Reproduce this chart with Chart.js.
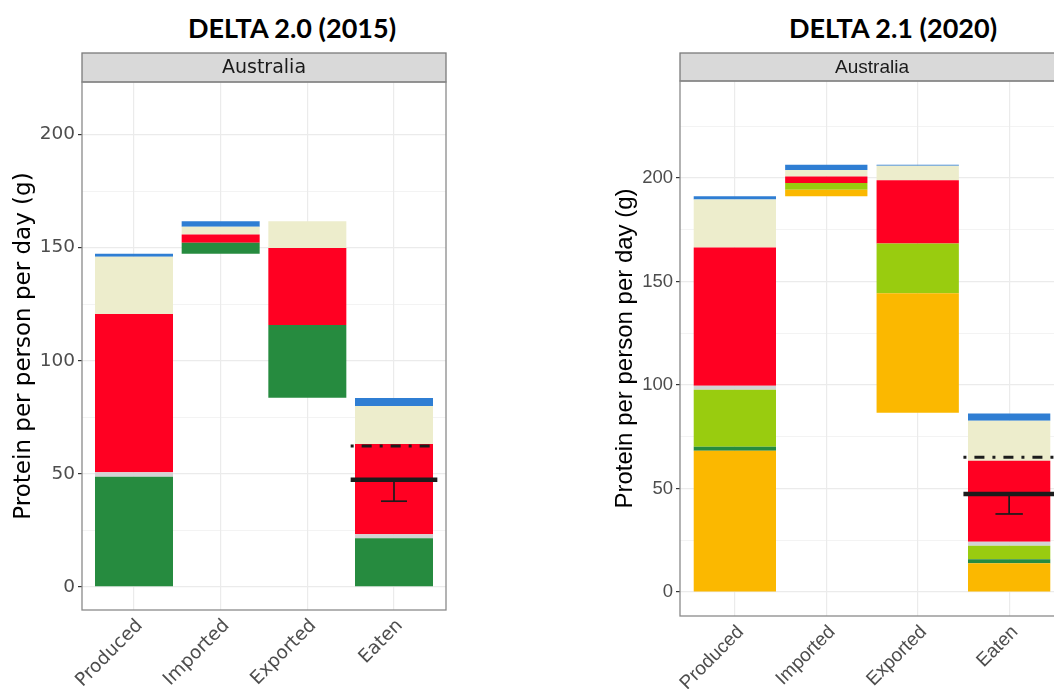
<!DOCTYPE html>
<html>
<head>
<meta charset="utf-8">
<script src="https://cdn.jsdelivr.net/npm/chart.js@4.4.1/dist/chart.umd.min.js"></script>
<style>
  html, body { margin: 0; padding: 0; background: #fff; overflow: hidden; }
  body { width: 1054px; height: 689px; position: relative; }
  .head { position: absolute; top: 12px; width: 300px; font: 700 27px Lato, sans-serif; line-height: 32px; text-align: center; color: #000; white-space: nowrap; }
  canvas { position: absolute; top: 40px; }
</style>
</head>
<body>
<div class="head" style="left:142px">DELTA 2.0 (2015)</div>
<div class="head" style="left:743px">DELTA 2.1 (2020)</div>
<canvas id="chart2015" width="460" height="649" style="left:0"></canvas>
<canvas id="chart2020" width="470" height="649" style="left:600px"></canvas>
<script>
// stages of the protein waterfall
var categories = ['Produced', 'Imported', 'Exported', 'Eaten'];

// DELTA 2.0 (2015): bottom of each stack, then segment sizes per food group (g/person/day)
var base2015    = [0, 147.3, 83.6, 0];
var plant2015   = [48.7, 4.8, 32.2, 21.5];
var other2015   = [2.0, 0, 0, 1.8];
var meat2015    = [69.9, 3.7, 34.0, 39.9];
var dairy2015   = [25.4, 3.4, 11.9, 16.8];
var seafood2015 = [1.3, 2.5, 0, 3.5];
var required2015 = 62.3, intake2015 = 47.4, intakeLow2015 = 37.9;
var yTicks2015 = [0, 25, 50, 75, 100, 125, 150, 175, 200];

// DELTA 2.1 (2020)
var base2020    = [0, 191.2, 86.6, 0];
var cereal2020  = [68.3, 3.2, 57.7, 13.9];
var veg2020     = [1.9, 0, 0, 1.9];
var pulse2020   = [27.5, 3.2, 24.1, 6.6];
var other2020   = [2.0, 0, 0, 1.9];
var meat2020    = [66.8, 3.2, 30.5, 39.1];
var dairy2020   = [23.2, 3.1, 7.0, 19.4];
var seafood2020 = [1.5, 2.5, 0.5, 3.5];
var required2020 = 65.1, intake2020 = 47.3, intakeLow2020 = 37.7;
var yTicks2020 = [0, 25, 50, 75, 100, 125, 150, 175, 200, 225];

var COL = {
  cereal: '#FBB800', veg: '#268B3F', pulse: '#99CC0F', plant: '#268B3F',
  other: '#D3D3D3', meat: '#FF0022', dairy: '#EDEDCC', seafood: '#2F7ED3'
};

// stack the groups on top of each stage's base as floating bars
function stackGroups(base, groups) {
  var tops = base.slice();
  return groups.map(function (g) {
    var pts = [];
    g.values.forEach(function (v, i) {
      var lo = tops[i];
      tops[i] = lo + v;
      if (v > 0) pts.push({ x: i + 1, y: [lo, tops[i]] });
    });
    return { type: 'bar', data: pts, backgroundColor: g.color, borderWidth: 0, grouped: false,
             categoryPercentage: 1, barPercentage: 0.9 };
  });
}

// recommended intake (dot-dash), mean intake (thick) and its error bar on the Eaten stage
function intakeLines(required, mean, low) {
  var p = categories.indexOf('Eaten') + 1;
  function seg(pts, w, dash) {
    return { type: 'line', data: pts, borderColor: '#1c1c1c', borderWidth: w, borderDash: dash || [],
             pointRadius: 0, fill: false, order: -1 };
  }
  return [
    seg([{ x: p - 0.5, y: required }, { x: p + 0.5, y: required }], 3, [3, 8, 10, 8]),
    seg([{ x: p - 0.5, y: mean }, { x: p + 0.5, y: mean }], 4.5),
    seg([{ x: p, y: mean }, { x: p, y: low }], 1.7),
    seg([{ x: p - 0.15, y: low }, { x: p + 0.15, y: low }], 1.7)
  ];
}

// facet strip and panel border, ggplot style
var panelFrame = {
  id: 'panelFrame',
  afterDraw: function (chart, args, opts) {
    var a = chart.chartArea, ctx = chart.ctx;
    ctx.save();
    ctx.fillStyle = '#D9D9D9';
    ctx.fillRect(a.left, a.top - opts.strip, a.right - a.left, opts.strip);
    ctx.strokeStyle = '#7a7a7a';
    ctx.lineWidth = 1.3;
    ctx.strokeRect(a.left, a.top - opts.strip, a.right - a.left, opts.strip);
    ctx.strokeStyle = '#8a8a8a';
    ctx.strokeRect(a.left, a.top, a.right - a.left, a.bottom - a.top);
    ctx.fillStyle = '#1a1a1a';
    ctx.font = opts.font;
    ctx.textAlign = 'center';
    ctx.textBaseline = 'middle';
    ctx.fillText('Australia', (a.left + a.right) / 2, a.top - opts.strip / 2 + 1);
    ctx.restore();
  }
};

function makeChart(id, o) {
  return new Chart(document.getElementById(id), {
    type: 'bar',
    data: { datasets: stackGroups(o.base, o.groups).concat(intakeLines(o.required, o.mean, o.low)) },
    options: {
      responsive: false,
      animation: false,
      devicePixelRatio: 1,
      layout: { padding: { top: o.top, right: o.right, left: 0, bottom: 0 } },
      plugins: {
        legend: { display: false },
        tooltip: { enabled: false },
        panelFrame: { strip: o.strip, font: o.stripSize + 'px "' + o.family + '"' }
      },
      scales: {
        x: {
          type: 'linear', min: 0.4, max: 4.6, offset: false,
          afterBuildTicks: function (s) { s.ticks = categories.map(function (c, i) { return { value: i + 1 }; }); },
          afterFit: function (s) { s.height = o.xHeight; },
          ticks: {
            callback: function (v) { return categories[v - 1]; },
            minRotation: 45, maxRotation: 45, autoSkip: false, padding: 5, labelOffset: 6,
            font: { family: o.family, size: o.xTickSize }, color: '#4D4D4D'
          },
          grid: { color: '#EBEBEB', lineWidth: 1.2, drawTicks: false, offset: false },
          border: { display: false }
        },
        y: {
          min: o.yMin, max: o.yMax,
          afterBuildTicks: function (s) { s.ticks = o.yTicks.map(function (v) { return { value: v }; }); },
          afterFit: function (s) { s.width = o.yWidth; },
          ticks: {
            callback: function (v) { return v % 50 === 0 ? String(v) : ''; },
            padding: 3, font: { family: o.family, size: o.tickSize }, color: '#4D4D4D'
          },
          grid: {
            color: '#EBEBEB',
            lineWidth: function (c) { return c.tick && c.tick.value % 50 ? 0.6 : 1.2; },
            tickColor: function (c) { return c.tick && c.tick.value % 50 ? 'rgba(0,0,0,0)' : '#333'; },
            tickLength: 4
          },
          border: { display: false },
          title: {
            display: true, text: 'Protein per person per day (g)', color: '#000',
            font: { family: o.family, size: o.titleSize }, padding: { top: o.titlePad, bottom: 0 }
          }
        }
      }
    },
    plugins: [panelFrame]
  });
}

makeChart('chart2015', {
  family: 'DejaVu Sans', tickSize: 18.5, xTickSize: 18.5, stripSize: 19, titleSize: 23, titlePad: 10,
  top: 42, right: 14, xHeight: 79, yWidth: 82, strip: 29,
  yMin: -10.2, yMax: 223.2, yTicks: yTicks2015,
  base: base2015,
  groups: [
    { values: plant2015, color: COL.plant },
    { values: other2015, color: COL.other },
    { values: meat2015, color: COL.meat },
    { values: dairy2015, color: COL.dairy },
    { values: seafood2015, color: COL.seafood }
  ],
  required: required2015, mean: intake2015, low: intakeLow2015
});

makeChart('chart2020', {
  family: 'Liberation Sans', tickSize: 18.5, xTickSize: 19, stripSize: 19, titleSize: 24, titlePad: 10.6,
  top: 41, right: 6, xHeight: 73, yWidth: 80, strip: 28,
  yMin: -11.6, yMax: 246.9, yTicks: yTicks2020,
  base: base2020,
  groups: [
    { values: cereal2020, color: COL.cereal },
    { values: veg2020, color: COL.veg },
    { values: pulse2020, color: COL.pulse },
    { values: other2020, color: COL.other },
    { values: meat2020, color: COL.meat },
    { values: dairy2020, color: COL.dairy },
    { values: seafood2020, color: COL.seafood }
  ],
  required: required2020, mean: intake2020, low: intakeLow2020
});
</script>
</body>
</html>
